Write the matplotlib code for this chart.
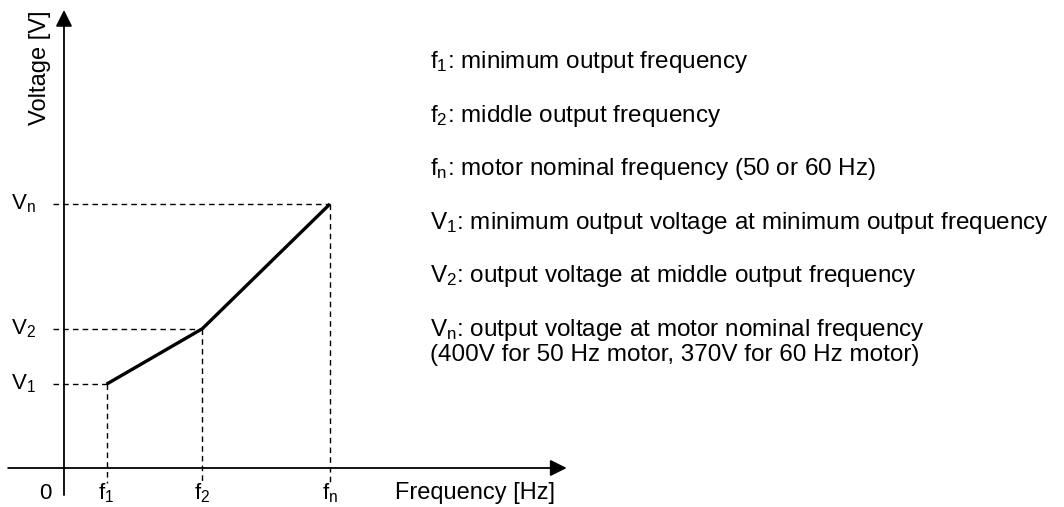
import matplotlib
matplotlib.use("Agg")
import matplotlib.pyplot as plt

plt.rcParams['font.family'] = ['Liberation Sans', 'DejaVu Sans']
plt.rcParams['mathtext.fontset'] = 'custom'
plt.rcParams['mathtext.rm'] = 'Liberation Sans'

# V/f characteristic: frequency breakpoints [Hz] and matching voltages [V]
freq = [8, 26, 50]
volt = [127, 211, 400]
freq_labels = [r'$\mathregular{f_1}$', r'$\mathregular{f_2}$', r'$\mathregular{f_n}$']
volt_labels = [r'$\mathregular{V_1}$', r'$\mathregular{V_2}$', r'$\mathregular{V_n}$']

notes = [
    r'$\mathregular{f_1}$: minimum output frequency',
    r'$\mathregular{f_2}$: middle output frequency',
    r'$\mathregular{f_n}$: motor nominal frequency (50 or 60 Hz)',
    r'$\mathregular{V_1}$: minimum output voltage at minimum output frequency',
    r'$\mathregular{V_2}$: output voltage at middle output frequency',
    r'$\mathregular{V_n}$: output voltage at motor nominal frequency',
]
note_extra = '(400V for 50 Hz motor, 370V for 60 Hz motor)'

fig = plt.figure(figsize=(10.64, 5.07), dpi=100)
ax = fig.add_axes([0, 0, 1, 1])
ax.set_xlim(-12.03, 188.0)
ax.set_ylim(-59.1, 709.1)
ax.axis('off')

FS_AX = 16
FS_NOTE = 17.5
arrow = dict(arrowstyle='-|>,head_length=0.5,head_width=0.25', mutation_scale=20,
             color='black', lw=1.3, shrinkA=0, shrinkB=0)

# axes with arrow heads
ax.annotate('', xy=(94.5, 0), xytext=(-10.5, 0), arrowprops=arrow)
ax.annotate('', xy=(0, 694), xytext=(0, -41), arrowprops=arrow)

# dashed guides to both axes
for f, v in zip(freq, volt):
    ax.plot([-2.0, f], [v, v], color='black', lw=1.0, ls=(0, (4, 3)))
    ax.plot([f, f], [v, -23], color='black', lw=1.0, ls=(0, (4, 3)))

# the characteristic itself
ax.plot(freq, volt, color='black', lw=2.4, solid_capstyle='butt')

# axis labels
for v, lab in zip(volt, volt_labels):
    ax.text(-7.6, v, lab, fontsize=FS_AX, ha='center', va='center')
for f, lab in zip(freq, freq_labels):
    ax.text(f, -47, lab, fontsize=FS_AX, ha='center', va='baseline')
ax.text(-3.6, -47, '0', fontsize=FS_AX, ha='center', va='baseline')
ax.text(62.2, -47, 'Frequency [Hz]', fontsize=17, ha='left', va='baseline')
ax.text(-4.5, 606, 'Voltage [V]', fontsize=17, rotation=90, ha='center', va='center')

# explanations on the right
x_note = 430 / 1064
y0 = 1 - 68 / 507
step = 53.6 / 507
for i, txt in enumerate(notes):
    fig.text(x_note, y0 - i * step, txt, fontsize=FS_NOTE, ha='left', va='baseline')
fig.text(x_note, y0 - (len(notes) - 1) * step - 25 / 507, note_extra,
         fontsize=FS_NOTE, ha='left', va='baseline')

fig.savefig('out.png', dpi=100)
